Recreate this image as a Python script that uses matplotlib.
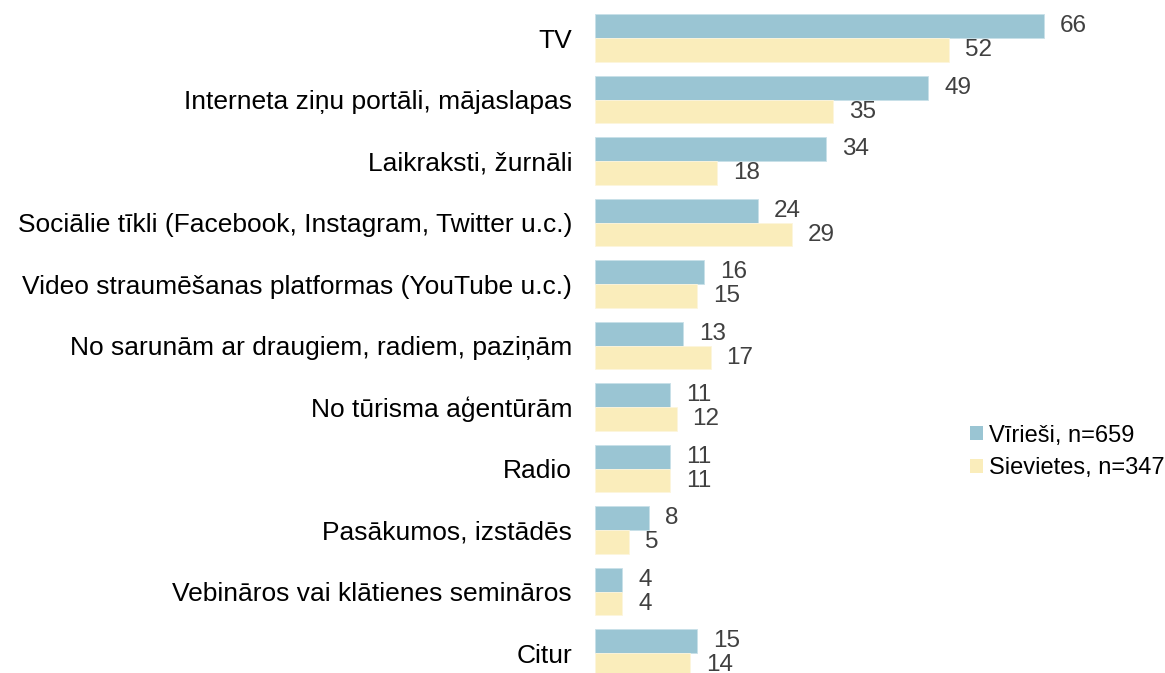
import numpy as np
import matplotlib
matplotlib.use("Agg")
import matplotlib.pyplot as plt
from matplotlib.patches import Patch

categories = [
    "TV",
    "Interneta ziņu portāli, mājaslapas",
    "Laikraksti, žurnāli",
    "Sociālie tīkli (Facebook, Instagram, Twitter u.c.)",
    "Video straumēšanas platformas (YouTube u.c.)",
    "No sarunām ar draugiem, radiem, paziņām",
    "No tūrisma aģentūrām",
    "Radio",
    "Pasākumos, izstādēs",
    "Vebināros vai klātienes semināros",
    "Citur",
]
men = [66, 49, 34, 24, 16, 13, 11, 11, 8, 4, 15]
women = [52, 35, 18, 29, 15, 17, 12, 11, 5, 4, 14]
series_labels = ["Vīrieši, n=659", "Sievietes, n=347"]

BLUE = "#9ac5d3"
YELLOW = "#faedbb"
VALUE_COLOR = "#404040"

plt.rcParams["font.family"] = ["Liberation Sans", "DejaVu Sans"]

fig = plt.figure(figsize=(11.65, 6.73), dpi=100, facecolor="white")
ax = fig.add_axes([595 / 1165, 0, 570 / 1165, 1])

y = np.arange(len(categories))
h = 0.39
ax.barh(y - h / 2, men, height=h, color=BLUE, edgecolor="#c8e0e8", linewidth=0.6)
ax.barh(y + h / 2, women, height=h, color=YELLOW, edgecolor="#fdf5dc", linewidth=0.6)

for yi, v in zip(y, men):
    ax.annotate(str(v), (v, yi - h / 2), xytext=(16, 0), textcoords="offset pixels",
                ha="left", va="center", fontsize=17.5, color=VALUE_COLOR)
for yi, v in zip(y, women):
    ax.annotate(str(v), (v, yi + h / 2), xytext=(16, 0), textcoords="offset pixels",
                ha="left", va="center", fontsize=17.5, color=VALUE_COLOR)

ax.set_xlim(0, 570 / 6.8)
ax.set_ylim(10.325, -0.618)
ax.set_yticks(y)
ax.set_yticklabels(categories, fontsize=19, color="black")
ax.tick_params(axis="y", length=0, pad=16.5)
ax.set_xticks([])
for s in ax.spines.values():
    s.set_visible(False)

handles = [Patch(facecolor=BLUE), Patch(facecolor=YELLOW)]
fig.legend(handles, series_labels, loc="center left", bbox_to_anchor=(970 / 1165, 1 - 452 / 673),
           frameon=False, fontsize=17, handlelength=0.55, handleheight=0.55,
           handletextpad=0.25, labelspacing=0.45, borderpad=0, borderaxespad=0)

fig.savefig("out.png", dpi=100)
